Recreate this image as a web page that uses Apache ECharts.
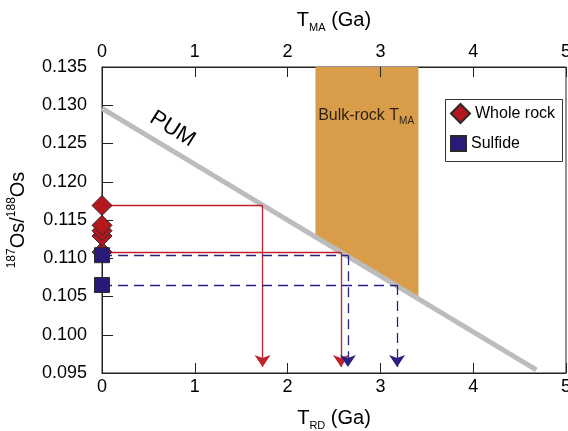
<!DOCTYPE html>
<html><head><meta charset="utf-8">
<script src="https://cdn.jsdelivr.net/npm/echarts@6/dist/echarts.min.js"></script>
<style>html,body{margin:0;padding:0;background:#fff}#c{width:568px;height:431px}</style>
</head><body><div id="c"></div>
<script>
// ---- data ----
const xRange = [0, 5];
const yRange = [0.095, 0.135];
const xTickVals = [0, 1, 2, 3, 4, 5];
const yTickVals = [0.095, 0.100, 0.105, 0.110, 0.115, 0.120, 0.125, 0.130, 0.135];
const pumLine = [[0, 0.1296], [4.68, 0.0954]];
const bandX = [2.30, 3.41];
const bandBottom = [0.1128, 0.1047];
const bandTop = 0.135;
const wholeRockY = [0.1108, 0.1129, 0.1136, 0.1143, 0.1169];
const sulfideY = [0.1104, 0.1065];
const wrModelY = [0.1169, 0.1108];
const wrTrd = [1.73, 2.575];
const sulfModelY = [0.1104, 0.1065];
const sulfTrd = [2.65, 3.18];
const arrowEndY = 0.0958;

const FONT = 'Liberation Sans, Arial, Helvetica, sans-serif';
const RED = '#c0222b';
const BLUE = '#2a2080';
const AXC = '#222';

const W = 568, H = 431;
const G = {left: 102, right: 2, top: 67, bottom: 58};
// data units per pixel, from the grid size
const dxPx = (xRange[1] - xRange[0]) / (W - G.left - G.right);
const dyPx = (yRange[1] - yRange[0]) / (H - G.top - G.bottom);

const chart = echarts.init(document.getElementById('c'), null, {renderer: 'canvas'});

const axisX = (pos, sub, gap) => ({
  type: 'value', position: pos, min: xRange[0], max: xRange[1], interval: 1,
  name: 'T{sub|' + sub + '} (Ga)', nameLocation: 'middle', nameGap: gap,
  nameTextStyle: {fontFamily: FONT, fontSize: 20, color: '#000', lineHeight: 26,
    rich: {sub: {fontFamily: FONT, fontSize: 11, lineHeight: 11, verticalAlign: 'bottom', color: '#000'}}},
  axisLine: {show: true, onZero: false, lineStyle: {color: AXC, width: 1}},
  axisTick: {show: false},
  axisLabel: {show: true, fontFamily: FONT, fontSize: 18, color: '#000', margin: pos === 'top' ? 6 : 5},
  splitLine: {show: false}
});

const fmtY = v => {
  const n = Number(v && typeof v === 'object' ? v.value : v);
  return isFinite(n) ? n.toFixed(3) : String(v);
};

// inward ticks as short segments on the axes' own scales
const tickSegs = [];
xTickVals.forEach(v => {
  tickSegs.push({coords: [[v, yRange[0]], [v, yRange[0] + 10 * dyPx]]});
  tickSegs.push({coords: [[v, yRange[1]], [v, yRange[1] - 10 * dyPx]]});
});
yTickVals.forEach(v => {
  tickSegs.push({coords: [[xRange[0], v], [xRange[0] + 11 * dxPx, v]]});
});

const option = {
  animation: false,
  backgroundColor: '#fff',
  grid: Object.assign({outerBoundsMode: 'none', show: true, borderColor: AXC, borderWidth: 1}, G),
  xAxis: [axisX('bottom', 'RD', 32), axisX('top', 'MA', 34)],
  yAxis: {
    type: 'value', position: 'left', min: yRange[0], max: yRange[1], interval: 0.005,
    name: '{sup|187}Os/{sup|188}Os', nameLocation: 'middle', nameGap: 72,
    nameTextStyle: {fontFamily: FONT, fontSize: 20, color: '#000', lineHeight: 24,
      rich: {sup: {fontFamily: FONT, fontSize: 12, lineHeight: 12, verticalAlign: 'top', color: '#000'}}},
    axisLine: {show: true, onZero: false, lineStyle: {color: AXC, width: 1}},
    axisTick: {show: false},
    axisLabel: {show: true, fontFamily: FONT, fontSize: 18, color: '#000', margin: 15, formatter: fmtY},
    splitLine: {show: false}
  },
  legend: [
    {data: ['Whole rock'], left: 450, top: 103, orient: 'vertical', padding: 0,
     itemWidth: 19, itemHeight: 19, itemGap: 0,
     textStyle: {fontFamily: FONT, fontSize: 16, color: '#000'}},
    {data: ['Sulfide'], left: 450, top: 135, orient: 'vertical', padding: 0,
     itemWidth: 15, itemHeight: 15, itemGap: 0,
     textStyle: {fontFamily: FONT, fontSize: 16, color: '#000'}}
  ],
  graphic: [{type: 'rect', left: 443, top: 97, shape: {width: 117, height: 62},
    style: {fill: 'none', stroke: '#333', lineWidth: 1}, z: 100}],
  series: [
    {
      name: 'band', type: 'custom', z: 1,
      data: [[bandX[0], bandX[1], bandBottom[0], bandBottom[1]]],
      renderItem: (params, api) => {
        const x0 = api.value(0), x1 = api.value(1);
        const pts = [
          api.coord([x0, bandTop]), api.coord([x1, bandTop]),
          api.coord([x1, api.value(3)]), api.coord([x0, api.value(2)])
        ];
        return {type: 'polygon', shape: {points: pts}, style: {fill: '#d99d4a'}};
      },
      silent: true
    },
    {
      name: 'PUM', type: 'line', z: 2, data: pumLine, symbol: 'none',
      lineStyle: {color: '#bcbcbc', width: 5}, silent: true,
      markPoint: {
        symbol: 'circle', symbolSize: 0,
        data: [{coord: [0.76, 0.1269], value: 'PUM'}],
        label: {show: true, formatter: 'PUM', fontFamily: FONT, fontSize: 22, color: '#000', rotate: -32, position: 'inside'}
      }
    },
    {
      name: 'wrH', type: 'lines', coordinateSystem: 'cartesian2d', z: 3,
      data: wrModelY.map((y, i) => ({coords: [[0, y], [wrTrd[i], y]]})),
      lineStyle: {color: RED, width: 1.3, opacity: 1, curveness: 0}, symbol: 'none', silent: true
    },
    {
      name: 'wrV', type: 'lines', coordinateSystem: 'cartesian2d', z: 3,
      data: wrModelY.map((y, i) => ({coords: [[wrTrd[i], y], [wrTrd[i], arrowEndY]]})),
      lineStyle: {color: RED, width: 1.3, opacity: 1, curveness: 0},
      symbol: ['none', 'arrow'], symbolSize: 12, itemStyle: {color: RED}, silent: true
    },
    {
      name: 'sfH', type: 'lines', coordinateSystem: 'cartesian2d', z: 3,
      data: sulfModelY.map((y, i) => ({coords: [[0, y], [sulfTrd[i], y]]})),
      lineStyle: {color: BLUE, width: 1.3, opacity: 1, type: [10, 6], curveness: 0}, symbol: 'none', silent: true
    },
    {
      name: 'sfV', type: 'lines', coordinateSystem: 'cartesian2d', z: 3,
      data: sulfModelY.map((y, i) => ({coords: [[sulfTrd[i], y], [sulfTrd[i], arrowEndY]]})),
      lineStyle: {color: BLUE, width: 1.3, opacity: 1, type: [10, 6], curveness: 0},
      symbol: ['none', 'arrow'], symbolSize: 12, itemStyle: {color: BLUE}, silent: true
    },
    {
      name: 'ticks', type: 'lines', coordinateSystem: 'cartesian2d', z: 4,
      data: tickSegs,
      lineStyle: {color: AXC, width: 1, opacity: 1, curveness: 0}, symbol: 'none', silent: true
    },
    {
      name: 'Whole rock', type: 'scatter', z: 5, clip: false,
      data: wholeRockY.map(y => [0, y]),
      symbol: 'diamond', symbolSize: 20,
      itemStyle: {color: '#b5171f', borderColor: '#2a2a2a', borderWidth: 1, opacity: 1}
    },
    {
      name: 'Sulfide', type: 'scatter', z: 6, clip: false,
      data: sulfideY.map(y => [0, y]),
      symbol: 'rect', symbolSize: 15,
      itemStyle: {color: '#2a1a78', borderColor: '#2a2a2a', borderWidth: 1, opacity: 1}
    },
    {
      name: 'label', type: 'scatter', z: 4, symbolSize: 0, silent: true,
      data: [[2.846, 0.1286]],
      label: {show: true, position: 'inside', formatter: 'Bulk-rock T{sub|MA}', fontFamily: FONT, fontSize: 16, color: '#000', lineHeight: 20,
        rich: {sub: {fontFamily: FONT, fontSize: 10, lineHeight: 10, verticalAlign: 'bottom', color: '#000'}}}
    }
  ]
};
chart.setOption(option);
</script></body></html>
